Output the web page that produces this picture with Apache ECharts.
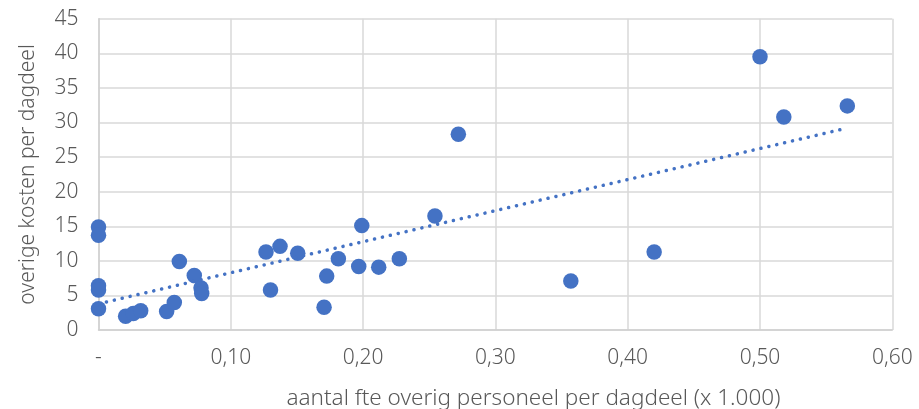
<!DOCTYPE html>
<html>
<head>
<meta charset="utf-8">
<script src="https://cdn.jsdelivr.net/npm/echarts@6/dist/echarts.min.js"></script>
<style>
html,body{margin:0;padding:0;background:#fff;}
#c{width:919px;height:409px;}
</style>
</head>
<body>
<div id="c"></div>
<script>
// fte overig personeel per dagdeel (x 1.000)
const fteValues = [0, 0, 0, 0, 0, 0.0205, 0.0263, 0.0319, 0.0515, 0.0573, 0.0611, 0.0724, 0.0775, 0.078,
  0.1266, 0.1372, 0.1506, 0.130, 0.1725, 0.1705, 0.1813, 0.199, 0.1967, 0.2118, 0.2274, 0.2543,
  0.272, 0.357, 0.420, 0.500, 0.518, 0.566];
// overige kosten per dagdeel
const kostenValues = [14.9, 13.7, 6.4, 5.8, 3.1, 2.0, 2.4, 2.8, 2.7, 4.0, 9.9, 7.9, 6.1, 5.3,
  11.3, 12.1, 11.1, 5.8, 7.8, 3.3, 10.3, 15.1, 9.2, 9.1, 10.3, 16.5,
  28.3, 7.1, 11.3, 39.5, 30.8, 32.4];
// linear trend line endpoints
const trendX = [0, 0.566];
const trendY = [3.8, 29.2];
const xTickLabels = ['-', '0,10', '0,20', '0,30', '0,40', '0,50', '0,60'];

const points = fteValues.map((x, i) => [x, kostenValues[i]]);
const trend = trendX.map((x, i) => [x, trendY[i]]);

const font = 'Noto Sans';
const grey = '#595959';
const chart = echarts.init(document.getElementById('c'));
chart.setOption({
  animation: false,
  grid: {left: 98.5, right: 26.7, top: 18.7, bottom: 78.9, outerBoundsMode: 'none', containLabel: false},
  xAxis: {
    type: 'value', min: 0, max: 0.6, interval: 0.1,
    name: 'aantal fte overig personeel per dagdeel (x 1.000)',
    nameLocation: 'middle', nameGap: 57,
    nameTextStyle: {color: grey, fontSize: 22.5, fontFamily: font, fontWeight: 300, padding: [0, 0, 0, 76]},
    axisLine: {show: true, lineStyle: {color: '#d0d0d0', width: 1.5}},
    axisTick: {show: false},
    axisLabel: {
      color: grey, fontSize: 21, fontFamily: font, fontWeight: 300, margin: 17,
      formatter: v => xTickLabels[Math.round(v * 10)]
    },
    splitLine: {show: true, lineStyle: {color: '#d9d9d9', width: 1.5}}
  },
  yAxis: {
    type: 'value', min: 0, max: 45, interval: 5,
    name: 'overige kosten per dagdeel',
    nameLocation: 'middle', nameGap: 60,
    nameTextStyle: {color: grey, fontSize: 21, fontFamily: font, fontWeight: 300},
    axisLine: {show: true, lineStyle: {color: '#d0d0d0', width: 1.5}},
    axisTick: {show: false},
    axisLabel: {color: grey, fontSize: 21, fontFamily: font, fontWeight: 300, margin: 20},
    splitLine: {show: true, lineStyle: {color: '#d9d9d9', width: 1.5}}
  },
  series: [
    {
      type: 'line', data: trend, symbol: 'none', z: 3,
      lineStyle: {color: '#4472C4', width: 3.5, type: [0.1, 8], cap: 'round'}
    },
    {
      type: 'scatter', data: points, symbol: 'circle', symbolSize: 15.5, z: 2,
      itemStyle: {color: '#4472C4', opacity: 1}
    }
  ]
});
</script>
</body>
</html>
